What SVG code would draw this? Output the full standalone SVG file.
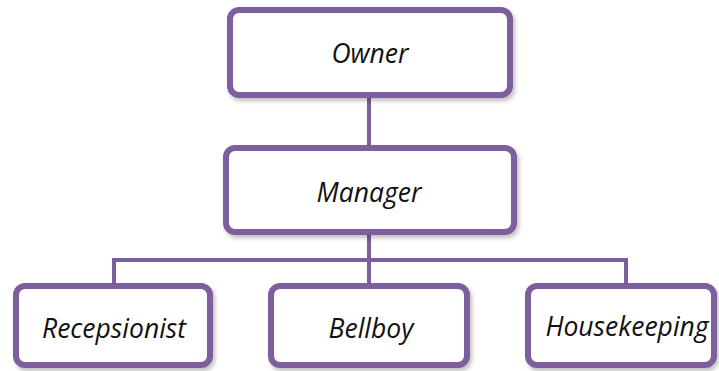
<svg xmlns="http://www.w3.org/2000/svg" width="719" height="371" viewBox="0 0 719 371">
<defs>
<filter id="sh" x="-10%" y="-10%" width="130%" height="140%">
<feDropShadow dx="2" dy="3" stdDeviation="2" flood-color="#000" flood-opacity="0.25"/>
</filter>
<style>
.box{fill:#fff;stroke:#7B5E9C;stroke-width:6;filter:url(#sh)}
.conn{fill:none;stroke:#7B5E9C;stroke-width:4}
.lbl{font-family:"Open Sans","Liberation Sans",sans-serif;font-style:italic;font-size:26.5px;fill:#111;text-anchor:middle}
</style>
</defs>
<rect width="719" height="371" fill="#fff"/>
<g id="connectors">
<line class="conn" x1="369" y1="95" x2="369" y2="148"/>
<line class="conn" x1="369" y1="232" x2="369" y2="286"/>
<polyline class="conn" points="114,286 114,260 626,260 626,286"/>
</g>
<g id="owner">
<rect class="box" x="230" y="10" width="280" height="85" rx="9"/>
<text class="lbl" x="370" y="63">Owner</text>
</g>
<g id="manager">
<rect class="box" x="226" y="148" width="288" height="84" rx="9"/>
<text class="lbl" x="369" y="202">Manager</text>
</g>
<g id="recepsionist">
<rect class="box" x="16" y="286" width="194" height="79" rx="9"/>
<text class="lbl" x="114" y="338">Recepsionist</text>
</g>
<g id="bellboy">
<rect class="box" x="271" y="286" width="196" height="79" rx="9"/>
<text class="lbl" x="371" y="338">Bellboy</text>
</g>
<g id="housekeeping">
<rect class="box" x="528" y="286" width="186" height="79" rx="9"/>
<text class="lbl" x="627" y="336">Housekeeping</text>
</g>
</svg>
